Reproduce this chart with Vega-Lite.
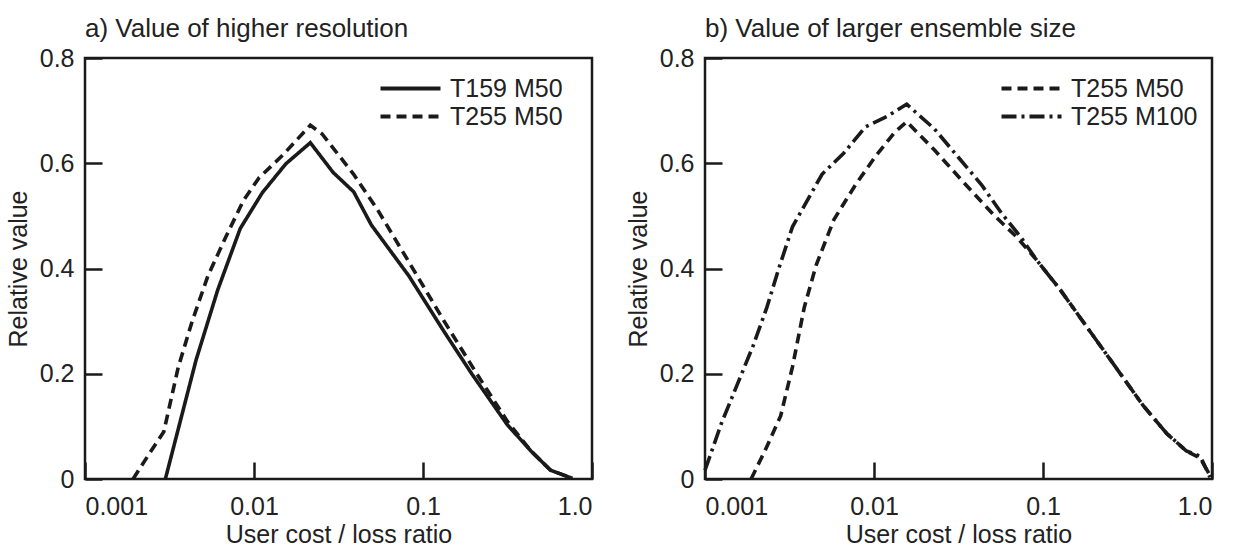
{
  "$schema": "https://vega.github.io/schema/vega-lite/v6.json",
  "padding": {"left": 4, "top": 14, "right": 0, "bottom": 0},
  "spacing": 30,
  "datasets": {
    "a": [
      {"series": "T159 M50", "x": 0.002989, "y": 0},
      {"series": "T159 M50", "x": 0.004543, "y": 0.2263},
      {"series": "T159 M50", "x": 0.006102, "y": 0.3594},
      {"series": "T159 M50", "x": 0.008288, "y": 0.4759},
      {"series": "T159 M50", "x": 0.01119, "y": 0.5438},
      {"series": "T159 M50", "x": 0.01544, "y": 0.599},
      {"series": "T159 M50", "x": 0.02154, "y": 0.639},
      {"series": "T159 M50", "x": 0.02941, "y": 0.5824},
      {"series": "T159 M50", "x": 0.03888, "y": 0.5458},
      {"series": "T159 M50", "x": 0.04951, "y": 0.4825},
      {"series": "T159 M50", "x": 0.08244, "y": 0.386},
      {"series": "T159 M50", "x": 0.1336, "y": 0.2795},
      {"series": "T159 M50", "x": 0.1945, "y": 0.1997},
      {"series": "T159 M50", "x": 0.3152, "y": 0.1032},
      {"series": "T159 M50", "x": 0.4352, "y": 0.0532},
      {"series": "T159 M50", "x": 0.569, "y": 0.0166},
      {"series": "T159 M50", "x": 0.7646, "y": 0.0013},
      {"series": "T255 M50", "x": 0.001925, "y": 0},
      {"series": "T255 M50", "x": 0.002385, "y": 0.0466},
      {"series": "T255 M50", "x": 0.002925, "y": 0.0898},
      {"series": "T255 M50", "x": 0.003567, "y": 0.213},
      {"series": "T255 M50", "x": 0.004305, "y": 0.2995},
      {"series": "T255 M50", "x": 0.005336, "y": 0.386},
      {"series": "T255 M50", "x": 0.006796, "y": 0.4592},
      {"series": "T255 M50", "x": 0.008654, "y": 0.5291},
      {"series": "T255 M50", "x": 0.01072, "y": 0.5724},
      {"series": "T255 M50", "x": 0.0148, "y": 0.6156},
      {"series": "T255 M50", "x": 0.02154, "y": 0.6722},
      {"series": "T255 M50", "x": 0.0253, "y": 0.6556},
      {"series": "T255 M50", "x": 0.03888, "y": 0.579},
      {"series": "T255 M50", "x": 0.05364, "y": 0.5125},
      {"series": "T255 M50", "x": 0.08244, "y": 0.4126},
      {"series": "T255 M50", "x": 0.1336, "y": 0.2995},
      {"series": "T255 M50", "x": 0.2053, "y": 0.203},
      {"series": "T255 M50", "x": 0.3152, "y": 0.1098},
      {"series": "T255 M50", "x": 0.4352, "y": 0.0532},
      {"series": "T255 M50", "x": 0.569, "y": 0.0166},
      {"series": "T255 M50", "x": 0.7646, "y": 0.0013}
    ],
    "b": [
      {"series": "T255 M50", "x": 0.001874, "y": 0},
      {"series": "T255 M50", "x": 0.00226, "y": 0.0532},
      {"series": "T255 M50", "x": 0.002803, "y": 0.1198},
      {"series": "T255 M50", "x": 0.003293, "y": 0.213},
      {"series": "T255 M50", "x": 0.003867, "y": 0.3261},
      {"series": "T255 M50", "x": 0.004543, "y": 0.406},
      {"series": "T255 M50", "x": 0.005783, "y": 0.4925},
      {"series": "T255 M50", "x": 0.007771, "y": 0.5591},
      {"series": "T255 M50", "x": 0.01016, "y": 0.6123},
      {"series": "T255 M50", "x": 0.01328, "y": 0.6589},
      {"series": "T255 M50", "x": 0.01561, "y": 0.6789},
      {"series": "T255 M50", "x": 0.02273, "y": 0.6256},
      {"series": "T255 M50", "x": 0.03492, "y": 0.5591},
      {"series": "T255 M50", "x": 0.05085, "y": 0.5025},
      {"series": "T255 M50", "x": 0.07018, "y": 0.4592},
      {"series": "T255 M50", "x": 0.09178, "y": 0.416},
      {"series": "T255 M50", "x": 0.1266, "y": 0.3594},
      {"series": "T255 M50", "x": 0.1843, "y": 0.2862},
      {"series": "T255 M50", "x": 0.2685, "y": 0.213},
      {"series": "T255 M50", "x": 0.3908, "y": 0.1398},
      {"series": "T255 M50", "x": 0.5394, "y": 0.0865},
      {"series": "T255 M50", "x": 0.7056, "y": 0.0532},
      {"series": "T255 M50", "x": 0.8513, "y": 0.0399},
      {"series": "T255 M50", "x": 0.9326, "y": 0.0166},
      {"series": "T255 M50", "x": 0.9734, "y": 0.0033},
      {"series": "T255 M100", "x": 0.001, "y": 0.0166},
      {"series": "T255 M100", "x": 0.001253, "y": 0.1065},
      {"series": "T255 M100", "x": 0.001553, "y": 0.1797},
      {"series": "T255 M100", "x": 0.001925, "y": 0.2529},
      {"series": "T255 M100", "x": 0.002323, "y": 0.3261},
      {"series": "T255 M100", "x": 0.002729, "y": 0.3993},
      {"series": "T255 M100", "x": 0.003293, "y": 0.4792},
      {"series": "T255 M100", "x": 0.004079, "y": 0.5324},
      {"series": "T255 M100", "x": 0.004925, "y": 0.579},
      {"series": "T255 M100", "x": 0.006614, "y": 0.619},
      {"series": "T255 M100", "x": 0.008886, "y": 0.6689},
      {"series": "T255 M100", "x": 0.01194, "y": 0.6889},
      {"series": "T255 M100", "x": 0.01561, "y": 0.7121},
      {"series": "T255 M100", "x": 0.02273, "y": 0.6656},
      {"series": "T255 M100", "x": 0.03136, "y": 0.6123},
      {"series": "T255 M100", "x": 0.04329, "y": 0.5591},
      {"series": "T255 M100", "x": 0.05661, "y": 0.5058},
      {"series": "T255 M100", "x": 0.07404, "y": 0.4592},
      {"series": "T255 M100", "x": 0.09178, "y": 0.416},
      {"series": "T255 M100", "x": 0.1266, "y": 0.3594},
      {"series": "T255 M100", "x": 0.1843, "y": 0.2862},
      {"series": "T255 M100", "x": 0.2685, "y": 0.213},
      {"series": "T255 M100", "x": 0.3908, "y": 0.1398},
      {"series": "T255 M100", "x": 0.5394, "y": 0.0865},
      {"series": "T255 M100", "x": 0.7056, "y": 0.0532},
      {"series": "T255 M100", "x": 0.8513, "y": 0.0433},
      {"series": "T255 M100", "x": 0.9226, "y": 0.02},
      {"series": "T255 M100", "x": 0.9734, "y": 0.0067}
    ]
  },
  "hconcat": [
    {
      "width": 507,
      "height": 421,
      "title": {"text": "a) Value of higher resolution"},
      "data": {"name": "a"},
      "mark": {"type": "line", "color": "#1a1a1a", "strokeWidth": 3.6, "strokeCap": "butt"},
      "encoding": {
        "x": {"field": "x", "type": "quantitative", "scale": {"type": "log", "domain": [0.001, 1], "nice": false},
              "axis": {"values": [0.001, 0.01, 0.1, 1], "labelExpr": "datum.value == 1 ? '1.0' : '' + datum.value"},
              "title": "User cost / loss ratio"},
        "y": {"field": "y", "type": "quantitative", "scale": {"domain": [0, 0.8], "nice": false},
              "axis": {"values": [0, 0.2, 0.4, 0.6, 0.8], "labelExpr": "datum.value == 0 ? '0' : format(datum.value, '.1f')"},
              "title": "Relative value"},
        "strokeDash": {"field": "series", "type": "nominal",
              "scale": {"domain": ["T159 M50", "T255 M50"], "range": [[1, 0], [10, 6]]},
              "legend": {"orient": "none", "legendX": 313, "legendY": 18}}
      }
    },
    {
      "width": 507,
      "height": 421,
      "title": {"text": "b) Value of larger ensemble size"},
      "data": {"name": "b"},
      "mark": {"type": "line", "color": "#1a1a1a", "strokeWidth": 3.6, "strokeCap": "butt"},
      "encoding": {
        "x": {"field": "x", "type": "quantitative", "scale": {"type": "log", "domain": [0.001, 1], "nice": false},
              "axis": {"values": [0.001, 0.01, 0.1, 1], "labelExpr": "datum.value == 1 ? '1.0' : '' + datum.value"},
              "title": "User cost / loss ratio"},
        "y": {"field": "y", "type": "quantitative", "scale": {"domain": [0, 0.8], "nice": false},
              "axis": {"values": [0, 0.2, 0.4, 0.6, 0.8], "labelExpr": "datum.value == 0 ? '0' : format(datum.value, '.1f')"},
              "title": "Relative value"},
        "strokeDash": {"field": "series", "type": "nominal",
              "scale": {"domain": ["T255 M50", "T255 M100"], "range": [[10, 6], [15, 5, 3, 5]]},
              "legend": {"orient": "none", "legendX": 314, "legendY": 18}}
      }
    }
  ],
  "resolve": {"scale": {"strokeDash": "independent"}, "legend": {"strokeDash": "independent"}},
  "config": {
    "font": "Liberation Sans",
    "view": {"stroke": "#1a1a1a", "strokeWidth": 2.5},
    "axis": {
      "domain": false, "ticks": false, "tickSize": 0, "zindex": 1,
      "grid": true, "gridColor": "#1a1a1a", "gridWidth": 2.5, "gridOpacity": 1,
      "labelFont": "Liberation Sans", "labelFontSize": 25, "labelColor": "#222", "labelOverlap": false, "labelBound": false,
      "titleFont": "Liberation Sans", "titleFontSize": 25, "titleFontWeight": "normal", "titleColor": "#222"
    },
    "axisX": {"labelPadding": 15, "titlePadding": 3, "gridDash": [0, 404, 17, 2000]},
    "axisY": {"labelPadding": 11, "titlePadding": 8, "gridDash": [17, 2000]},
    "title": {"anchor": "start", "frame": "group", "fontSize": 26, "fontWeight": "normal", "font": "Liberation Sans", "color": "#222", "offset": 4},
    "legend": {
      "title": null, "symbolType": "M-3,0H3", "symbolSize": 400, "symbolStrokeWidth": 3.8, "symbolStrokeColor": "#1a1a1a", "symbolFillColor": "transparent",
      "labelFont": "Liberation Sans", "labelFontSize": 25, "labelColor": "#222", "labelOffset": 27, "rowPadding": 2
    }
  }
}
